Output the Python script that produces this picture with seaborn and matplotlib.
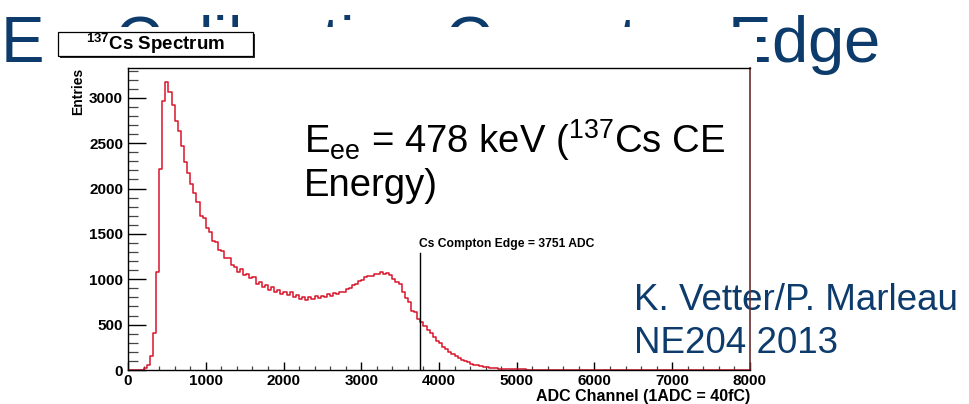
import pandas as pd
import seaborn as sns
import matplotlib.pyplot as plt
from matplotlib.patches import Rectangle
from matplotlib.ticker import MultipleLocator

# 137Cs spectrum, 40-ADC-wide bins from 0 to 8000
bin_width = 40
counts = [
    # 0 - 360
    0, 0, 0, 0, 4, 22, 58, 150, 410, 1080,
    # 400 - 760
    2210, 2960, 3170, 3060, 2920, 2740, 2630, 2470, 2290, 2170,
    # 800 - 1160
    2050, 1950, 1850, 1700, 1680, 1560, 1520, 1420, 1415, 1320,
    # 1200 - 1560
    1310, 1230, 1235, 1160, 1140, 1080, 1115, 1050, 1060, 1010,
    # 1600 - 1960
    1020, 945, 965, 915, 935, 880, 910, 865, 885, 840,
    # 2000 - 2360
    865, 825, 855, 805, 830, 785, 810, 775, 805, 785,
    # 2400 - 2760
    815, 790, 820, 800, 835, 815, 850, 835, 860, 865,
    # 2800 - 3160
    890, 900, 935, 945, 980, 990, 1025, 1035, 1040, 1055,
    # 3200 - 3560
    1060, 1075, 1060, 1065, 1050, 1005, 970, 945, 865, 795,
    # 3600 - 3960
    745, 655, 635, 565, 530, 485, 445, 405, 365, 325,
    # 4000 - 4360
    300, 250, 230, 200, 175, 150, 135, 110, 95, 85,
    # 4400 - 4760
    70, 58, 50, 42, 36, 30, 26, 22, 18, 16,
    # 4800 - 5160
    14, 12, 11, 9, 8, 7, 6, 6, 5, 5,
    # 5200 - 5560
    4, 4, 3, 3, 4, 2, 3, 2, 2, 3,
    # 5600 - 5960
    2, 2, 2, 2, 1, 2, 1, 1, 2, 1,
    # 6000 - 7960
    1, 1, 0, 1, 1, 0, 1, 0, 1, 1,
    0, 1, 0, 0, 1, 0, 1, 0, 0, 1,
    0, 0, 1, 0, 0, 1, 0, 0, 0, 1,
    0, 0, 0, 1, 0, 0, 0, 0, 1, 0,
    0, 0, 0, 0, 1, 0, 0, 0, 0, 0,
]
compton_edge = 3751
edge_marker_top = 1295

x_range = (0, 8000)
x_major, x_minor = 1000, 200
y_major, y_minor = 500, 100

slide_title = r"E$_{\mathregular{ee}}$ Calibration Compton Edge"
energy_line1 = r"E$_{\mathregular{ee}}$ = 478 keV ($^{\mathregular{137}}$Cs CE"
energy_line2 = "Energy)"
credit_line1 = "K. Vetter/P. Marleau"
credit_line2 = "NE204 2013"

plt.rcParams["font.family"] = ["Liberation Sans", "DejaVu Sans"]

W, H = 970, 404
fig = plt.figure(figsize=(W / 100, H / 100), dpi=100)
fig.patch.set_facecolor("white")


def fxy(x, y):
    return x / W, 1 - y / H


slide_blue = "#0c3b6c"
hist_red = "#d8152b"

# slide heading, partly hidden behind the ROOT canvas
fig.text(*fxy(0, 62), slide_title, fontsize=47, color=slide_blue,
         va="baseline", ha="left", zorder=-2)
fig.add_artist(Rectangle(fxy(45, H), (757 - 45) / W, (H - 26.5) / H,
                         transform=fig.transFigure, facecolor="white",
                         edgecolor="none", zorder=-1))

ax = fig.add_axes([128 / W, 1 - 370 / H, 622 / W, 302 / H])
ax.set_zorder(5)
ax.patch.set_visible(False)

n_bins = len(counts)
centers = [x_range[0] + bin_width * (i + 0.5) for i in range(n_bins)]
df = pd.DataFrame({"adc": centers, "entries": counts})
sns.histplot(data=df, x="adc", weights="entries", binwidth=bin_width,
             binrange=x_range, element="step", fill=False, color=hist_red,
             linewidth=1.1, ax=ax)

ax.set_xlim(*x_range)
ax.set_ylim(0, 1.05 * max(counts))

ax.plot([compton_edge, compton_edge], [0, edge_marker_top],
        color="black", linewidth=1.0)
ax.text(compton_edge - 8, edge_marker_top + 90,
        f"Cs Compton Edge = {compton_edge} ADC",
        fontsize=8.7, fontweight="bold", ha="left", va="center")

ax.xaxis.set_major_locator(MultipleLocator(x_major))
ax.xaxis.set_minor_locator(MultipleLocator(x_minor))
ax.yaxis.set_major_locator(MultipleLocator(y_major))
ax.yaxis.set_minor_locator(MultipleLocator(y_minor))
ax.tick_params(axis="y", which="major", direction="in", length=13,
               width=1.0, labelsize=11, pad=3.5)
ax.tick_params(axis="y", which="minor", direction="in", length=7,
               width=0.9, color="#444444")
ax.tick_params(axis="x", which="major", direction="in", length=5.8,
               width=1.0, labelsize=11, pad=3.0)
ax.tick_params(axis="x", which="minor", direction="in", length=2.9,
               width=0.9, color="#444444")
for lab in ax.get_xticklabels() + ax.get_yticklabels():
    lab.set_fontweight("bold")

for side in ("left", "bottom", "top"):
    ax.spines[side].set_color("black")
    ax.spines[side].set_linewidth(1.0)
ax.spines["right"].set_color("#6a2e2e")
ax.spines["right"].set_linewidth(1.2)

ax.set_xlabel("ADC Channel (1ADC = 40fC)", fontsize=11.5, fontweight="bold",
              loc="right")
ax.xaxis.set_label_coords(1.0, -0.062)
ax.set_ylabel("")
fig.text(*fxy(78, 68), "Entries", rotation=90, fontsize=10,
         fontweight="bold", ha="center", va="top", zorder=6)

# ROOT title box with drop shadow
fig.add_artist(Rectangle(fxy(60, 58), (255 - 60) / W, (58 - 34.5) / H,
                         transform=fig.transFigure, facecolor="#2a2a2a",
                         edgecolor="none", zorder=6))
fig.add_artist(Rectangle(fxy(58, 56), (253 - 58) / W, (56 - 32.3) / H,
                         transform=fig.transFigure, facecolor="white",
                         edgecolor="black", linewidth=0.9, zorder=7))
fig.text(*fxy(155.5, 50.5), r"$^{\mathregular{137}}$Cs Spectrum",
         fontsize=13.5, fontweight="bold", ha="center", va="baseline",
         zorder=8)

# slide annotations
fig.text(*fxy(304, 153), energy_line1, fontsize=27.5, color="black",
         ha="left", va="baseline", zorder=3)
fig.text(*fxy(304, 196), energy_line2, fontsize=27.5, color="black",
         ha="left", va="baseline", zorder=3)
fig.text(*fxy(634, 310), credit_line1, fontsize=26.5, color=slide_blue,
         ha="left", va="baseline", zorder=3)
fig.text(*fxy(634, 353), credit_line2, fontsize=26.5, color=slide_blue,
         ha="left", va="baseline", zorder=3)

fig.savefig("out.png", dpi=100)
